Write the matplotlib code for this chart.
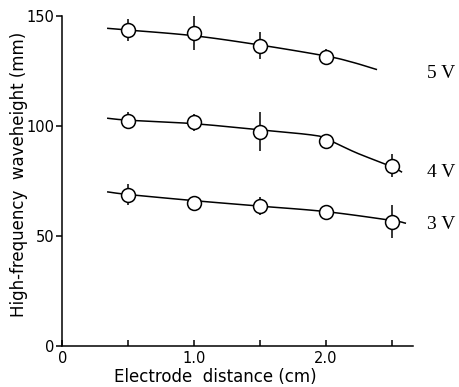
import numpy as np
import matplotlib
matplotlib.use("Agg")
import matplotlib.pyplot as plt

# Measured points: electrode distance (cm), waveheight (mm), error half-widths
dist = [0.5, 1.0, 1.5, 2.0, 2.5]

v5_dist = [0.5, 1.0, 1.5, 2.0]
v5_height = [143.6, 142.4, 136.5, 131.5]
v5_err = [5.0, 8.0, 6.0, 3.6]

v4_height = [102.4, 101.7, 97.4, 93.3, 81.9]
v4_err = [4.0, 3.8, 9.0, 0.0, 5.3]

v3_height = [68.6, 64.8, 63.6, 60.6, 56.5]
v3_err = [4.8, 3.0, 4.0, 3.5, 7.5]

# Hand-drawn trend curves through each set (control nodes)
v5_curve_x = [0.34, 0.5, 1.0, 1.5, 2.0, 2.2, 2.39]
v5_curve_y = [144.4, 143.6, 141.0, 136.8, 131.8, 129.0, 125.6]
v4_curve_x = [0.34, 0.5, 1.0, 1.5, 1.89, 2.0, 2.235, 2.5, 2.58]
v4_curve_y = [103.5, 102.6, 101.0, 98.2, 95.9, 94.2, 87.7, 81.5, 78.9]
v3_curve_x = [0.34, 0.5, 1.0, 1.5, 2.0, 2.5, 2.61]
v3_curve_y = [70.0, 68.8, 66.0, 63.5, 61.0, 57.0, 55.7]

voltage_labels = ["5 V", "4 V", "3 V"]
label_y = [124, 79, 55]

x_ticks = [0, 0.5, 1.0, 1.5, 2.0, 2.5]
x_ticklabels = ["0", "", "1.0", "", "2.0", ""]
y_ticks = [0, 50, 100, 150]
y_ticklabels = ["0", "50", "100", "150"]


def smooth(xs, ys, n=20):
    """Catmull-Rom curve through the control nodes."""
    p = np.column_stack([xs, ys]).astype(float)
    p = np.vstack([2 * p[0] - p[1], p, 2 * p[-1] - p[-2]])
    out = []
    t = np.linspace(0, 1, n, endpoint=False)[:, None]
    for i in range(1, len(p) - 2):
        p0, p1, p2, p3 = p[i - 1], p[i], p[i + 1], p[i + 2]
        seg = 0.5 * ((2 * p1) + (-p0 + p2) * t + (2 * p0 - 5 * p1 + 4 * p2 - p3) * t ** 2
                     + (-p0 + 3 * p1 - 3 * p2 + p3) * t ** 3)
        out.append(seg)
    out.append(p[-2][None, :])
    out = np.vstack(out)
    return out[:, 0], out[:, 1]


fig = plt.figure(figsize=(4.6, 3.87), dpi=100)
ax = fig.add_axes([0.1354, 0.1067, 0.897 - 0.1354, 0.9587 - 0.1067])

lw = 1.1
for cx, cy in [(v5_curve_x, v5_curve_y), (v4_curve_x, v4_curve_y), (v3_curve_x, v3_curve_y)]:
    sx, sy = smooth(cx, cy)
    ax.plot(sx, sy, color="black", lw=lw, solid_capstyle="butt", zorder=2)

for xs, ys, es in [(v5_dist, v5_height, v5_err), (dist, v4_height, v4_err), (dist, v3_height, v3_err)]:
    ax.errorbar(xs, ys, yerr=es, fmt="none", ecolor="black", elinewidth=lw, capsize=0, zorder=3)
    ax.plot(xs, ys, "o", ms=10, mfc="white", mec="black", mew=lw, zorder=4)

for lab, ly in zip(voltage_labels, label_y):
    ax.text(2.77, ly, lab, family="Liberation Serif", fontsize=14, ha="left", va="center",
            clip_on=False)

ax.set_xlim(0, 2.66)
ax.set_ylim(0, 150)
ax.spines["top"].set_visible(False)
ax.spines["right"].set_visible(False)
for s in ["left", "bottom"]:
    ax.spines[s].set_linewidth(1.1)

ax.set_xticks(x_ticks)
ax.set_xticklabels(x_ticklabels)
ax.set_yticks(y_ticks)
ax.set_yticklabels(y_ticklabels)
ax.tick_params(axis="x", direction="in", length=4, width=1.1, labelsize=10.5, pad=4)
ax.tick_params(axis="y", direction="out", length=4, width=1.1, labelsize=10.5, pad=2)

ax.set_xlabel("Electrode  distance (cm)", fontsize=12)
ax.set_ylabel("High-frequency  waveheight (mm)", fontsize=12)
# place the axis titles (figure pixel positions converted to axes fractions)
bbox = ax.get_position()
ax.xaxis.set_label_coords((215 / 460 - bbox.x0) / bbox.width, (1 - 377 / 387 - bbox.y0) / bbox.height)
ax.xaxis.label.set_va("center")
ax.yaxis.set_label_coords((19 / 460 - bbox.x0) / bbox.width, (1 - 174 / 387 - bbox.y0) / bbox.height)
ax.yaxis.label.set_va("center")

fig.savefig("out.png", dpi=100)
